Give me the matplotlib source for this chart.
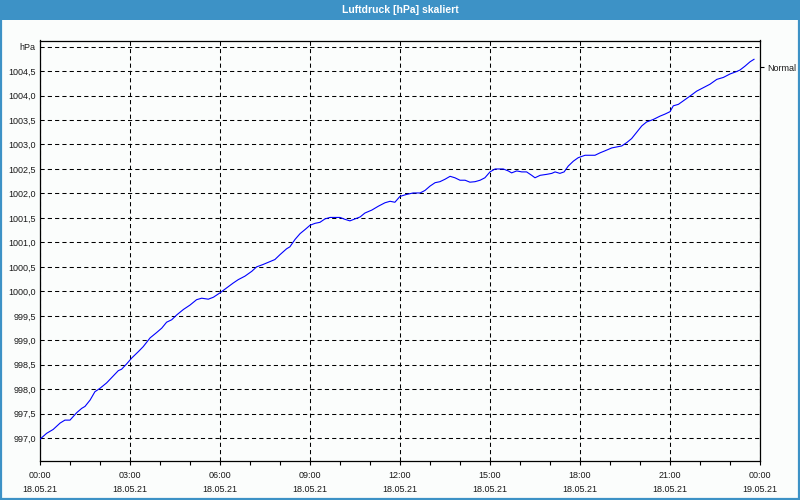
import numpy as np
import matplotlib
matplotlib.use("Agg")
import matplotlib.pyplot as plt
from matplotlib.patches import Rectangle

# Stunden seit 18.05.21 00:00
stunden = [0.00, 0.22, 0.44, 0.67, 0.83, 1.00, 1.06, 1.22, 1.39, 1.50, 1.67, 1.83,
           2.00, 2.22, 2.44, 2.61, 2.72, 2.89, 3.06, 3.28, 3.44, 3.67, 3.89, 4.06,
           4.22, 4.39, 4.56, 4.78, 5.00, 5.22, 5.39, 5.61, 5.78, 6.00, 6.22, 6.44,
           6.61, 6.83, 7.06, 7.22, 7.44, 7.67, 7.83, 8.00, 8.22, 8.33, 8.50, 8.67,
           8.83, 9.00, 9.17, 9.33, 9.50, 9.67, 10.00, 10.17, 10.33, 10.50, 10.67, 10.83,
           11.06, 11.28, 11.50, 11.67, 11.83, 12.00, 12.22, 12.44, 12.67, 12.83, 13.00, 13.17,
           13.33, 13.50, 13.67, 13.83, 14.00, 14.17, 14.33, 14.50, 14.67, 14.83, 15.00, 15.17,
           15.44, 15.61, 15.72, 15.89, 16.06, 16.22, 16.39, 16.50, 16.67, 16.89, 17.06, 17.17,
           17.33, 17.47, 17.61, 17.78, 17.94, 18.17, 18.33, 18.50, 18.67, 18.83, 19.06, 19.22,
           19.39, 19.56, 19.72, 19.89, 20.06, 20.22, 20.44, 20.67, 20.83, 21.00, 21.11, 21.28,
           21.44, 21.67, 21.89, 22.11, 22.33, 22.56, 22.78, 23.00, 23.22, 23.33, 23.50, 23.67,
           23.80]

# Luftdruck in hPa
druck = [996.98, 997.10, 997.18, 997.31, 997.37, 997.37, 997.41, 997.52, 997.61, 997.65, 997.78, 997.95,
         998.02, 998.13, 998.27, 998.38, 998.41, 998.52, 998.64, 998.77, 998.87, 999.05, 999.16, 999.25,
         999.37, 999.42, 999.52, 999.63, 999.72, 999.83, 999.86, 999.84, 999.88, 999.97, 1000.07, 1000.17,
         1000.24, 1000.31, 1000.41, 1000.50, 1000.55, 1000.61, 1000.65, 1000.75, 1000.87, 1000.91, 1001.06, 1001.18,
         1001.26, 1001.35, 1001.39, 1001.41, 1001.48, 1001.51, 1001.51, 1001.47, 1001.44, 1001.48, 1001.52, 1001.60,
         1001.66, 1001.74, 1001.81, 1001.84, 1001.82, 1001.94, 1001.98, 1002.01, 1002.01, 1002.06, 1002.15, 1002.22,
         1002.24, 1002.29, 1002.35, 1002.32, 1002.27, 1002.27, 1002.23, 1002.24, 1002.27, 1002.32, 1002.44, 1002.50,
         1002.50, 1002.46, 1002.42, 1002.46, 1002.44, 1002.44, 1002.37, 1002.32, 1002.37, 1002.39, 1002.41, 1002.44,
         1002.41, 1002.44, 1002.56, 1002.66, 1002.73, 1002.78, 1002.78, 1002.78, 1002.83, 1002.87, 1002.93, 1002.95,
         1002.97, 1003.04, 1003.12, 1003.25, 1003.38, 1003.46, 1003.51, 1003.58, 1003.62, 1003.67, 1003.79, 1003.82,
         1003.89, 1003.99, 1004.09, 1004.16, 1004.23, 1004.33, 1004.37, 1004.44, 1004.49, 1004.52, 1004.60, 1004.69,
         1004.74]

x_ticks = [0, 3, 6, 9, 12, 15, 18, 21, 24]
x_labels = ["00:00\n18.05.21", "03:00\n18.05.21", "06:00\n18.05.21", "09:00\n18.05.21",
            "12:00\n18.05.21", "15:00\n18.05.21", "18:00\n18.05.21", "21:00\n18.05.21",
            "00:00\n19.05.21"]
y_ticks = [997.0, 997.5, 998.0, 998.5, 999.0, 999.5, 1000.0, 1000.5, 1001.0,
           1001.5, 1002.0, 1002.5, 1003.0, 1003.5, 1004.0, 1004.5, 1005.0]
serie = "Normal"
titel = "Luftdruck [hPa] skaliert"

plt.rcParams["font.family"] = ["Liberation Sans", "DejaVu Sans"]
bg = "#fbfdfc"
blau = "#3d92c6"
txt = "#1a1a1a"

fig = plt.figure(figsize=(8, 5), dpi=100, facecolor=bg)

# Titelleiste und Fensterrahmen
fig.patches.append(Rectangle((0, 1 - 20 / 500), 1, 20 / 500, transform=fig.transFigure,
                             facecolor=blau, edgecolor="none", zorder=0))
fig.patches.append(Rectangle((0.001, 0.002), 0.998, 0.99, transform=fig.transFigure,
                             facecolor="none", edgecolor=blau, lw=1.6, zorder=0))
fig.text(0.5, 1 - 10 / 500, titel, color="white", ha="center", va="center",
         fontsize=7.5, fontweight="bold")

ax = fig.add_axes([40 / 800, 1 - 461 / 500, 720 / 800, 420.5 / 500])
ax.set_facecolor(bg)
ax.plot(stunden, druck, color="#0000ff", lw=0.8, zorder=3)

ax.set_xlim(0, 24)
ax.set_ylim(996.535, 1005.124)

ax.set_xticks(x_ticks)
ax.set_xticklabels(x_labels, fontsize=6.5, color=txt, linespacing=1.75)
ax.set_xticks(range(0, 25), minor=True)
ax.tick_params(axis="x", which="both", direction="out", length=3, width=0.8, pad=4, colors="black")
ax.tick_params(axis="x", labelcolor=txt)

ylab = [f"{v:.1f}".replace(".", ",") for v in y_ticks]
ylab[-1] = "hPa"
ax.set_yticks(y_ticks)
ax.set_yticklabels(ylab, fontsize=6.5, color=txt)
ax.tick_params(axis="y", length=0, pad=3)

ax.grid(True, which="major", color="black", lw=0.75, linestyle=(0, (4, 3)))
for s in ax.spines.values():
    s.set_color("black")
    s.set_linewidth(0.9)

# Seriennamen rechts
ax2 = ax.twinx()
ax2.set_ylim(ax.get_ylim())
ax2.set_yticks([1004.58])
ax2.set_yticklabels([serie], fontsize=6.5, color=txt)
ax2.tick_params(axis="y", length=3, width=0.8, pad=2)
for s in ax2.spines.values():
    s.set_visible(False)

fig.savefig("out.png", dpi=100, facecolor=bg)
